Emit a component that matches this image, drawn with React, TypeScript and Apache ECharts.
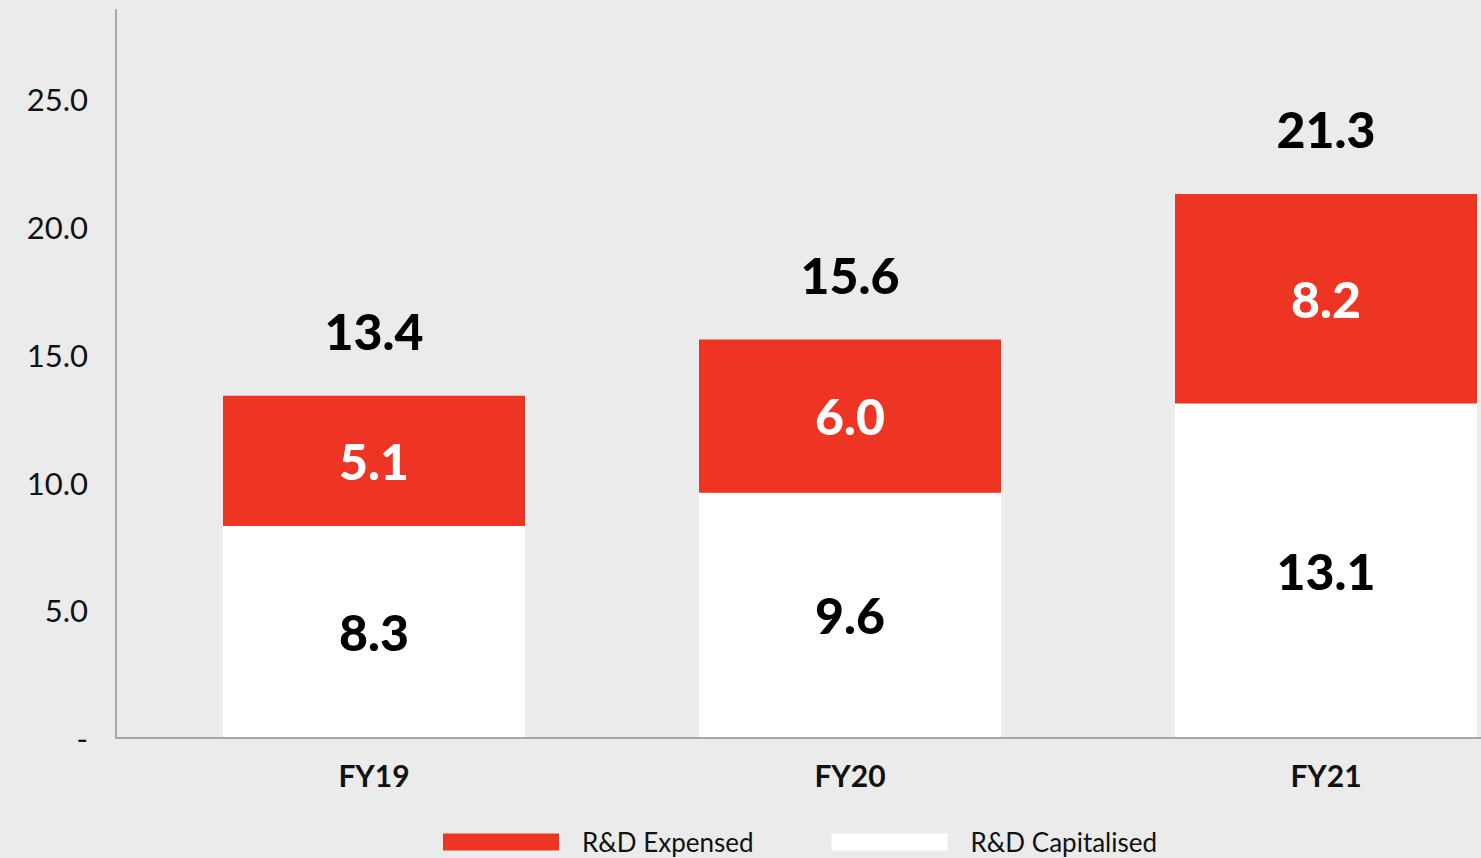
import React, { useEffect, useRef } from "react";
import * as echarts from "echarts";

const categories = ["FY19", "FY20", "FY21"];
const capitalised = [8.3, 9.6, 13.1];
const expensed = [5.1, 6.0, 8.2];
const totals = [13.4, 15.6, 21.3];
const yTicks = [0, 5, 10, 15, 20, 25];

const RED = "#ee3524";
const BG = "#ebebeb";
const AXIS = "#a6a6a6";
const FONT = "Lato, 'Noto Sans', sans-serif";

export default function App() {
  const ref = useRef<HTMLDivElement>(null);
  useEffect(() => {
    if (!ref.current) return;
    const chart = echarts.init(ref.current, undefined, { renderer: "svg" });
    chart.setOption({
      animation: false,
      backgroundColor: BG,
      textStyle: { fontFamily: FONT },
      grid: {
        left: 136,
        top: 10,
        bottom: 120,
        width: 1428,
        containLabel: false,
        outerBoundsMode: "none",
      },
      legend: {
        left: 443,
        top: 829,
        padding: 0,
        itemWidth: 116,
        itemHeight: 17,
        itemGap: 78,
        icon: "rect",
        data: ["R&D Expensed", "R&D Capitalised"],
        textStyle: { fontSize: 26, color: "#111", fontFamily: FONT, padding: [0, 0, 0, 18] },
      },
      xAxis: {
        type: "category",
        data: categories,
        axisLine: { show: false },
        axisTick: { show: false },
        axisLabel: { fontSize: 30, fontWeight: 700, color: "#111", margin: 22, fontFamily: FONT },
      },
      yAxis: {
        type: "value",
        min: 0,
        max: 28.5,
        interval: 5,
        offset: 20,
        splitLine: { show: false },
        axisTick: { show: false },
        axisLine: { show: true, lineStyle: { color: AXIS, width: 2 } },
        axisLabel: {
          fontSize: 31,
          color: "#111",
          margin: 28,
          fontFamily: FONT,
          formatter: (v: number) =>
            v === 0 ? "-" : yTicks.includes(v) ? v.toFixed(1) : "",
        },
      },
      graphic: [
        {
          type: "line",
          shape: { x1: 116, y1: 738, x2: 1481, y2: 738 },
          style: { stroke: AXIS, lineWidth: 2 },
          z: 10,
        },
      ],
      series: [
        {
          name: "R&D Capitalised",
          type: "bar",
          stack: "rd",
          barWidth: 302,
          barGap: "-100%",
          data: capitalised,
          itemStyle: { color: "#ffffff" },
          label: {
            show: true,
            position: "inside",
            color: "#000",
            fontSize: 50,
            fontWeight: 900,
            fontFamily: FONT,
            formatter: (p: any) => Number(p.value).toFixed(1),
          },
        },
        {
          name: "R&D Expensed",
          type: "bar",
          stack: "rd",
          barWidth: 302,
          barGap: "-100%",
          data: expensed,
          itemStyle: { color: RED },
          label: {
            show: true,
            position: "inside",
            color: "#fff",
            fontSize: 50,
            fontWeight: 900,
            fontFamily: FONT,
            formatter: (p: any) => Number(p.value).toFixed(1),
          },
        },
        {
          name: "Total",
          type: "bar",
          barWidth: 302,
          barGap: "-100%",
          data: totals,
          silent: true,
          z: 1,
          itemStyle: { color: "transparent" },
          label: {
            show: true,
            position: "top",
            distance: 40,
            color: "#000",
            fontSize: 50,
            fontWeight: 900,
            fontFamily: FONT,
            formatter: (p: any) => Number(p.value).toFixed(1),
          },
        },
      ],
    });
    return () => chart.dispose();
  }, []);
  return (
    <div
      ref={ref}
      style={{ position: "absolute", left: 0, top: 0, width: 1481, height: 858, background: BG }}
    />
  );
}
